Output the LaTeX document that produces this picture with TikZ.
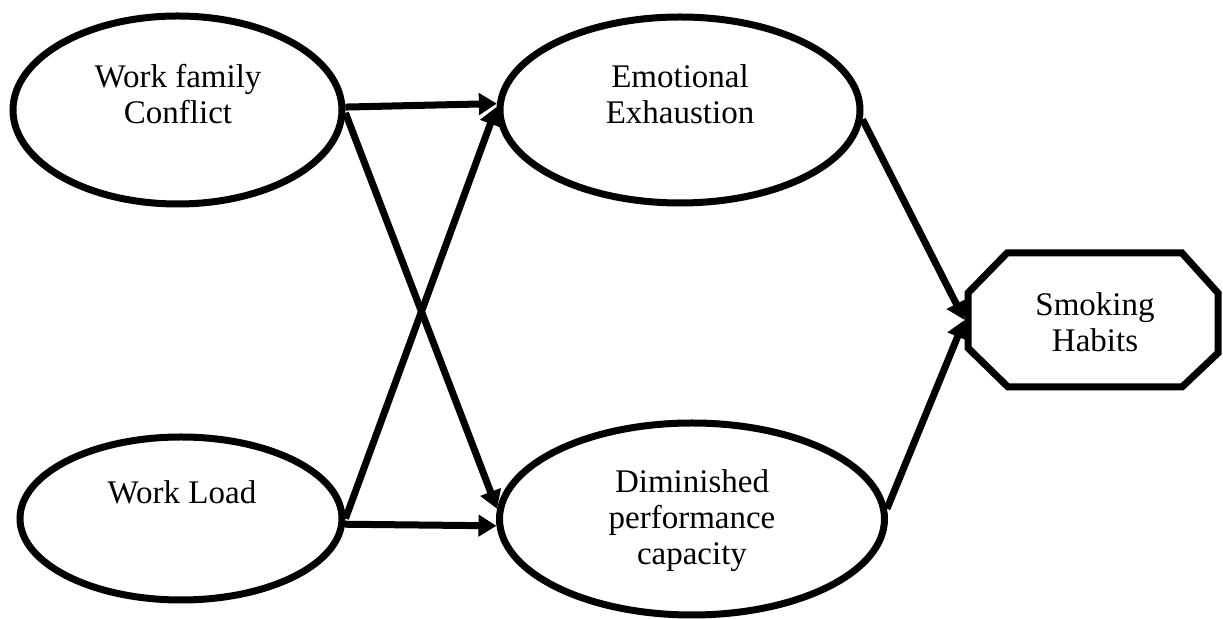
\documentclass[tikz,border=0pt]{standalone}
\usepackage{fontspec}
\setmainfont{Liberation Serif}
\usetikzlibrary{arrows.meta,shapes.geometric}
\begin{document}
\begin{tikzpicture}[x=0.5pt,y=-0.5pt,
  lat/.style={draw,ellipse,line width=3.5pt,inner sep=0pt},
  outc/.style={rectangle,inner sep=0pt,outer sep=0pt},
  edge/.style={line width=3.5pt,line join=miter},
  lbl/.style={align=center,font=\fontsize{16.5}{18}\selectfont,inner sep=0pt},
  arr/.style={line width=3.5pt,-{Triangle[length=9pt,width=10.5pt]}}]
\useasboundingbox (0,0) rectangle (1223,619);

\node[lat,minimum width=164.5pt,minimum height=94pt] (wfc) at (177.5,110) {};
\node[lat,minimum width=161pt,minimum height=81.5pt] (wl) at (181,518.5) {};
\node[lat,minimum width=180pt,minimum height=93pt] (ee) at (680,110) {};
\node[lat,minimum width=192.5pt,minimum height=96pt] (dpc) at (692,519) {};
\node[outc,minimum width=125pt,minimum height=67pt] (sh) at (1093,320) {};
\draw[edge] ([xshift=19.5pt]sh.north west) -- ([xshift=-18pt]sh.north east)
  -- ([yshift=-20pt]sh.north east) -- ([yshift=17pt]sh.south east)
  -- ([xshift=-18pt]sh.south east) -- ([xshift=20pt]sh.south west)
  -- ([yshift=19.5pt]sh.south west) -- ([yshift=-20pt]sh.north west) -- cycle;

\node[lbl] (wfcT) at (178,94) {Work family\\Conflict};
\node[lbl] (wlT) at (182,492) {Work Load};
\node[lbl] (eeT) at (680,94) {Emotional\\Exhaustion};
\node[lbl] (dpcT) at (692,521) {Diminished\\performance\\capacity};
\node[lbl] (shT) at (1095,322) {Smoking\\Habits};

\draw[arr] (wfc.1.7) -- (ee.178.4);
\draw[arr] (wfc.-1) -- (dpc.177.9);
\draw[arr] (wl.0.5) -- (ee.179.7);
\draw[arr] (wl.-2.3) -- (dpc.-178.2);
\draw[arr] (ee.-3.8) -- ([xshift=-1.75pt]sh.west);
\draw[arr] (dpc.3.6) -- ([xshift=-1.75pt]sh.west);
\end{tikzpicture}
\end{document}
